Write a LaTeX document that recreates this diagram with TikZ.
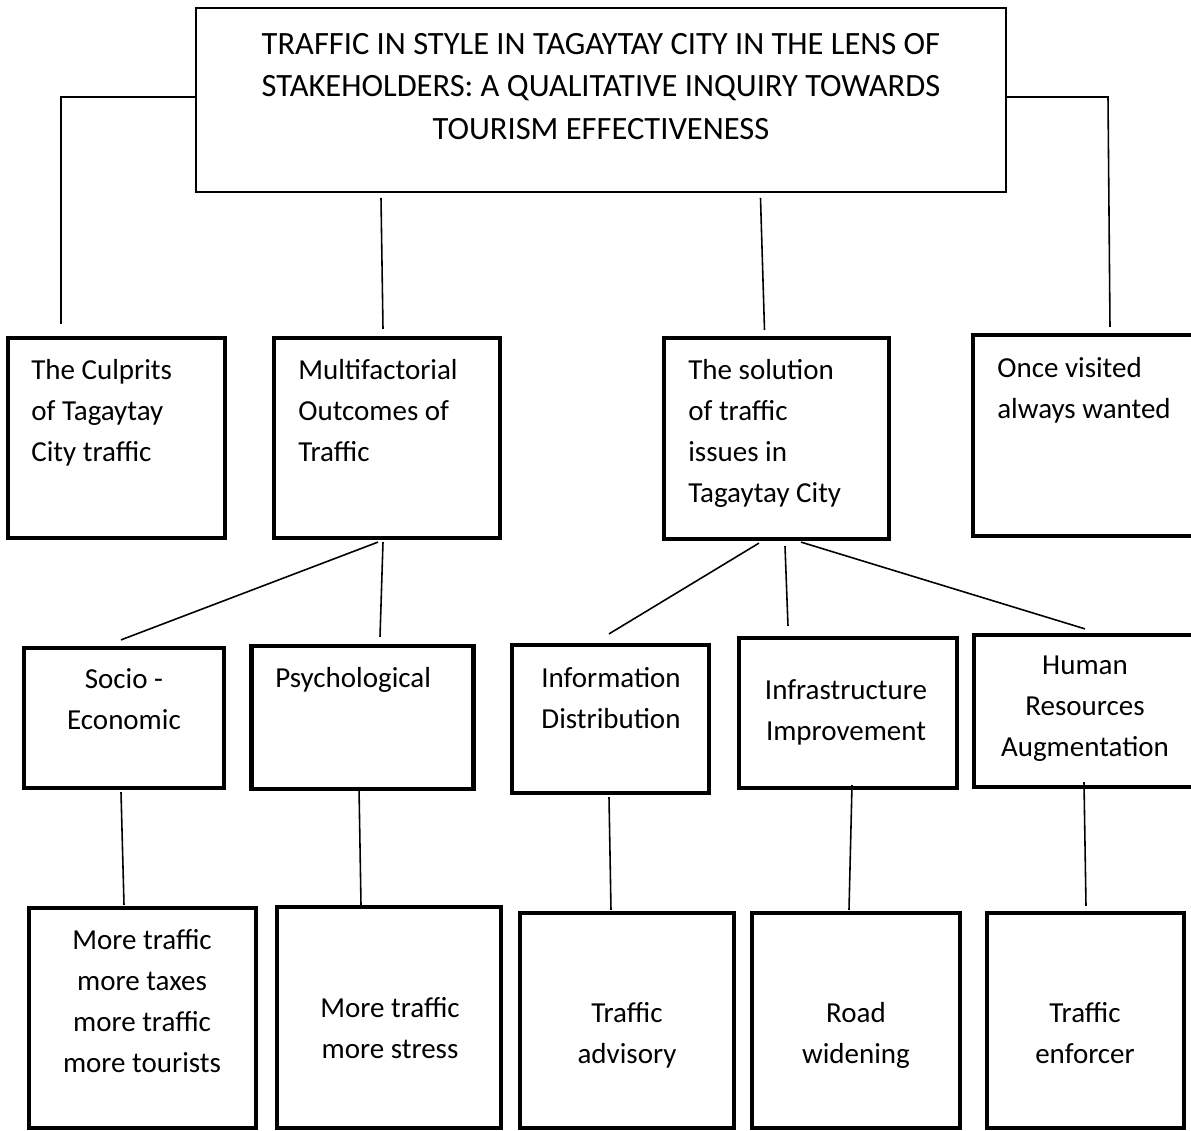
\documentclass[tikz,border=0pt]{standalone}
\usepackage{fontspec}
\setmainfont{Carlito}
\usetikzlibrary{calc}

\begin{document}
\begin{tikzpicture}[x=0.02cm, y=-0.02cm,
  box/.style 2 args={draw, line width=2.4pt, inner sep=0pt,
    minimum width=#1*0.02cm, minimum height=#2*0.02cm},
  txt/.style={inner sep=0pt, font=\fontsize{16.5}{23.3}\selectfont},
  link/.style={line width=0.9pt}]
  \clip (0,0) rectangle (1191,1131);

  \node[draw, line width=1.1pt, minimum width=810*0.02cm, minimum height=184*0.02cm] (title) at (601,100) {};
  \node[txt, align=center, anchor=north, font=\fontsize{18.5}{24.2}\selectfont] (title-t) at (601,33)
    {TRAFFIC IN STYLE IN TAGAYTAY CITY IN THE LENS OF\\STAKEHOLDERS: A QUALITATIVE INQUIRY TOWARDS\\TOURISM EFFECTIVENESS};

  \node[box={217}{200}] (culprit) at (116.5,438) {};
  \node[box={226}{200}] (multi) at (387,438) {};
  \node[box={225}{201}] (sol) at (776.5,438.5) {};
  \node[box={240}{201}] (once) at (1093,435.5) {};
  \node[txt, align=left, anchor=north west] (culprit-t) at (31,359) {The Culprits\\of Tagaytay\\City traffic};
  \node[txt, align=left, anchor=north west] (multi-t) at (298,359) {Multifactorial\\Outcomes of\\Traffic};
  \node[txt, align=left, anchor=north west] (sol-t) at (688,359) {The solution\\of traffic\\issues in\\Tagaytay City};
  \node[txt, align=left, anchor=north west] (once-t) at (997,357) {Once visited\\always wanted};

  \node[box={200}{140}] (socio) at (124,718) {};
  \node[box={222}{143}] (psych) at (362.5,717.5) {};
  \node[box={197}{148}] (info) at (610.5,719) {};
  \node[box={218}{150}] (infra) at (848,713) {};
  \node[box={240}{152}] (human) at (1094,711) {};
  \node[txt, align=center, anchor=north] (socio-t) at (124,668) {Socio -\\Economic};
  \node[txt, align=left, anchor=north west] (psych-t) at (275,667) {Psychological};
  \node[txt, align=center, anchor=north] (info-t) at (611,667) {Information\\Distribution};
  \node[txt, align=center, anchor=north] (infra-t) at (846,679) {Infrastructure\\Improvement};
  \node[txt, align=center, anchor=north] (human-t) at (1085,656) {Human\\Resources\\Augmentation};

  \node[box={227}{220}] (taxes) at (142.5,1018) {};
  \node[box={224}{221}] (stress) at (389,1017.5) {};
  \node[box={214}{215}] (advisory) at (627,1020.5) {};
  \node[box={208}{215}] (road) at (856,1020.5) {};
  \node[box={197}{215}] (enforcer) at (1085.5,1020.5) {};
  \node[txt, align=center, anchor=north] (taxes-t) at (142,929) {More traffic\\more taxes\\more traffic\\more tourists};
  \node[txt, align=center, anchor=north] (stress-t) at (390,997) {More traffic\\more stress};
  \node[txt, align=center, anchor=north] (advisory-t) at (627,1002) {Traffic\\advisory};
  \node[txt, align=center, anchor=north] (road-t) at (856,1002) {Road\\widening};
  \node[txt, align=center, anchor=north] (enforcer-t) at (1085,1002) {Traffic\\enforcer};

  \coordinate (lbend) at (61,97);
  \coordinate (lend) at (61,324);
  \coordinate (rbend) at (1108,97);
  \coordinate (rend) at (1110,327);

  \draw[link] (title.west |- lbend) -- (lbend) -- (lend);
  \draw[link] (title.east |- rbend) -- (rbend) -- (rend);
  \draw[link] ($(title.south -| multi.north)+(-6,5)$) -- ($(multi.north)+(-4,-7)$);
  \draw[link] ($(title.south -| sol.north)+(-16,5)$) -- ($(sol.north)+(-12,-6)$);

  \draw[link] ($(multi.south)+(-9,2)$) -- ($(socio.north)+(-3,-6)$);
  \draw[link] ($(multi.south)+(-4,2)$) -- ($(psych.north)+(17.5,-7)$);
  \draw[link] ($(sol.south)+(-17.5,2)$) -- ($(info.north)+(-1.5,-9)$);
  \draw[link] ($(sol.south)+(8.5,5)$) -- ($(infra.north)+(-60,-10)$);
  \draw[link] ($(sol.south)+(24.5,1)$) -- ($(human.north)+(-9,-4)$);

  \draw[link] ($(socio.south)+(-3,2)$) -- ($(taxes.north)+(-18.5,-1)$);
  \draw[link] ($(psych.south)+(-3.5,-4)$) -- ($(stress.north)+(-28,0)$);
  \draw[link] ($(info.south)+(-1.5,2)$) -- ($(advisory.north)+(-16,-1)$);
  \draw[link] ($(infra.south)+(4,-5)$) -- ($(road.north)+(-7,-1)$);
  \draw[link] ($(human.south)+(-10,-7)$) -- ($(enforcer.north)+(0.5,-5)$);
\end{tikzpicture}
\end{document}
